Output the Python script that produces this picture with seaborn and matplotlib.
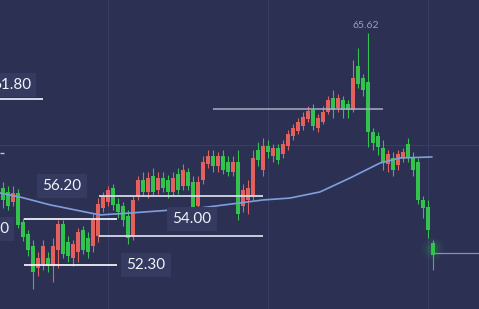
import numpy as np
import pandas as pd
import matplotlib
matplotlib.use("Agg")
import matplotlib.pyplot as plt
import seaborn as sns

# ---- data (prices) ----
opens = [56.72, 56.49, 55.92, 56.43, 54.77, 54.08, 53.39, 52.13, 52.36, 52.70,
         52.24, 53.16, 54.65, 53.62, 52.70, 53.05, 54.31, 53.85, 53.39, 53.96,
         55.57, 55.92, 56.72, 55.80, 55.69, 55.11, 53.96, 56.26, 57.18, 56.49,
         57.41, 56.60, 57.29, 57.18, 56.49, 57.52, 56.83, 57.64, 57.06, 55.69,
         57.18, 58.10, 58.56, 57.98, 58.56, 58.21, 57.64, 58.21, 55.69, 56.03,
         56.26, 58.90, 57.75, 59.13, 58.56, 59.01, 58.67, 59.13, 59.70, 59.99,
         60.28, 60.68, 61.20, 60.16, 60.51, 61.08, 61.88, 61.31, 61.77, 61.54,
         61.20, 63.72, 63.03, 62.80, 59.93, 59.70, 59.01, 58.10, 58.44, 58.04,
         58.44, 59.24, 58.50, 58.21, 56.03, 55.63, 53.56]
closes = [56.03, 55.69, 56.43, 54.59, 53.91, 53.16, 51.90, 52.70, 53.39, 52.24,
          53.39, 54.65, 52.93, 52.82, 53.50, 54.19, 53.16, 53.05, 54.88, 55.80,
          56.26, 56.60, 55.74, 55.34, 54.88, 53.85, 56.03, 57.18, 56.49, 57.29,
          56.49, 57.29, 56.72, 56.49, 57.29, 56.60, 57.75, 56.83, 55.34, 57.06,
          58.21, 58.56, 57.98, 58.56, 57.75, 57.64, 58.21, 55.23, 56.60, 56.72,
          58.44, 58.33, 59.13, 58.79, 59.01, 58.33, 59.24, 59.82, 60.16, 60.51,
          60.79, 61.14, 60.28, 60.74, 61.08, 61.77, 61.20, 61.88, 61.20, 61.20,
          63.03, 62.69, 62.34, 59.93, 59.30, 59.07, 58.15, 58.67, 57.75, 58.67,
          58.79, 58.50, 57.75, 56.03, 55.57, 54.31, 52.87]
highs = [57.06, 56.83, 56.83, 56.66, 55.00, 54.31, 53.73, 53.05, 53.73, 53.05,
         53.85, 54.88, 54.88, 53.96, 53.73, 54.42, 54.54, 54.19, 55.23, 56.14,
         56.49, 56.83, 56.95, 56.14, 55.92, 55.46, 56.26, 57.41, 57.64, 57.64,
         57.87, 57.64, 57.64, 57.46, 57.64, 57.87, 58.10, 57.87, 57.41, 57.41,
         58.56, 58.90, 58.90, 58.79, 58.90, 58.56, 58.56, 58.90, 56.95, 57.18,
         58.90, 59.36, 59.59, 59.47, 59.24, 59.24, 59.47, 60.05, 60.39, 60.74,
         61.08, 61.43, 61.54, 60.97, 61.43, 62.00, 62.34, 62.11, 62.00, 61.77,
         64.07, 64.75, 63.26, 65.62, 60.16, 59.93, 59.47, 58.90, 58.79, 58.90,
         59.01, 59.59, 58.79, 58.44, 56.26, 56.03, 53.73]
lows = [55.57, 55.46, 55.69, 54.42, 53.68, 52.82, 50.92, 51.67, 52.01, 51.90,
        51.32, 52.13, 52.70, 52.47, 52.24, 52.47, 52.93, 52.70, 53.05, 53.62,
        55.34, 55.69, 55.46, 55.00, 54.54, 53.50, 53.73, 56.03, 56.26, 56.14,
        56.26, 56.37, 56.49, 56.14, 56.26, 56.37, 56.60, 56.60, 55.11, 55.46,
        56.95, 57.87, 57.64, 57.64, 57.52, 57.41, 57.41, 54.88, 55.34, 55.23,
        56.03, 57.98, 57.41, 58.44, 58.21, 58.10, 58.44, 58.90, 59.47, 59.82,
        60.05, 60.51, 60.05, 59.93, 60.39, 60.97, 60.74, 61.08, 60.74, 60.74,
        61.08, 62.46, 62.00, 59.07, 58.90, 58.61, 57.75, 57.64, 57.41, 57.75,
        58.21, 58.21, 57.41, 55.80, 55.00, 53.85, 52.01]

# moving average line (bar index, price)
ma_idx = [-0.6, 3.4, 9.4, 14.4, 19.4, 25.4, 39.4, 47.4, 52.0, 57.4, 63.4, 69.4, 75.4, 79.4, 85.8]
ma_val = [56.43, 56.20, 55.75, 55.46, 55.17, 55.28, 55.57, 55.86, 56.03, 56.14, 56.49, 57.29, 58.15, 58.44, 58.50]

# horizontal levels: price, start bar, end bar
level_price = [61.83, 61.25, 56.26, 54.94, 53.96, 52.30, 52.99, 58.73]
level_start = [-0.6, 42.0, 19.2, 4.2, 19.2, 4.2, 86.0, -0.6]
level_end = [8.0, 76.0, 52.0, 22.8, 52.0, 22.8, 95.2, 0.2]

label_text = ["61.80", "56.20", "54.00", "52.30", "55.00"]
label_bar = [5.6, 11.8, 37.8, 28.6, 1.2]
label_price = [62.63, 56.83, 54.94, 52.30, 54.36]
label_ha = ["right", "center", "center", "center", "right"]
peak_label = "65.62"

BG = "#2c3154"
RED = "#e2615c"
GREEN = "#33c24d"

sns.set_theme(style="dark", rc={"axes.facecolor": BG, "figure.facecolor": BG})
plt.rcParams["font.family"] = ["Lato", "DejaVu Sans"]

fig = plt.figure(figsize=(4.79, 3.09), dpi=100)
ax = fig.add_axes([0, 0, 1, 1])
ax.set_facecolor(BG)

df = pd.DataFrame({"o": opens, "c": closes, "h": highs, "l": lows})
df["i"] = np.arange(len(df))
df["up"] = df["c"] >= df["o"]
colors = np.where(df["up"], RED, GREEN)

# grid
for gx in [21, 53, 85]:
    ax.axvline(gx, color="#373d64", lw=0.8, zorder=0)
ax.axhline(59.19, color="#373d64", lw=0.8, zorder=0)

# wicks and bodies
ax.vlines(df["i"], df["l"], df["h"], colors=colors, lw=0.8, zorder=2)
body_bottom = np.minimum(df["o"], df["c"])
body_h = np.maximum(np.abs(df["c"] - df["o"]), 0.08)
ax.bar(df["i"], body_h, bottom=body_bottom, width=0.72, color=colors, edgecolor="none", zorder=3)

# glow on last candle
last = df.iloc[-1]
for s, a in [(260, 0.05), (140, 0.08), (60, 0.12)]:
    ax.scatter([last["i"]], [(last["o"] + last["c"]) / 2], s=s, color=GREEN, alpha=a, edgecolor="none", zorder=1)

# moving average
sns.lineplot(x=ma_idx, y=ma_val, ax=ax, color="#7f9fdc", lw=1.2, zorder=4, sort=False)

# level lines
lvl_colors = ["#e6e8f2", "#a8adc4", "#d6d9e6", "#eef0f6", "#d6d9e6", "#eef0f6", "#8a90ac", "#c0c4d6"]
lvl_lw = [1.3, 1.1, 1.3, 1.3, 1.3, 1.3, 0.9, 1.0]
for p, s, e, c, w in zip(level_price, level_start, level_end, lvl_colors, lvl_lw):
    ax.hlines(p, s, e, colors=c, lw=w, zorder=5)

# labels
for t, x, y, ha in zip(label_text, label_bar, label_price, label_ha):
    ax.text(x, y, t, ha=ha, va="center", color="#f2f3f8", fontsize=11,
            bbox=dict(boxstyle="square,pad=0.35", fc="#343a60", ec="none"), zorder=6)
ax.text(72.6, 66.02, peak_label, ha="center", va="center", color="#9aa0b8", fontsize=7.5, zorder=6)

ax.set_xlim(-0.6, 95.2)
ax.set_ylim(49.77, 67.51)
ax.set_xticks([])
ax.set_yticks([])
for sp in ax.spines.values():
    sp.set_visible(False)
ax.grid(False)

fig.savefig("out.png", dpi=100, facecolor=BG)
